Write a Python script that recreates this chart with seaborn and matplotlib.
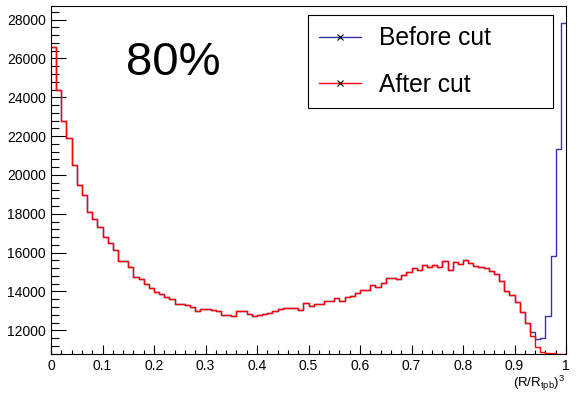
import numpy as np
import pandas as pd
import matplotlib
matplotlib.use('Agg')
import matplotlib.pyplot as plt
from matplotlib.lines import Line2D
from matplotlib.ticker import MultipleLocator, FuncFormatter
import seaborn as sns

# --- 資料 (從圖上讀出的各 bin 數值, 100 bins, 0~1) ---
n_bins = 100
bin_centers = (np.arange(n_bins) + 0.5) / n_bins

after_cut = [26566, 24353, 22773, 21882, 20523, 19478, 18948, 18089, 17713, 17317,
             16787, 16478, 16149, 15551, 15551, 15258, 14759, 14656, 14368, 14193,
             13956, 13868, 13714, 13596, 13354, 13354, 13318, 13184, 12993, 13112,
             13081, 13029, 13009, 12803, 12803, 12751, 13009, 13009, 12839, 12736,
             12787, 12839, 12890, 12978, 13081, 13132, 13163, 13163, 13060, 13390,
             13235, 13369, 13369, 13524, 13524, 13647, 13508, 13699, 13750, 13904,
             14090, 14090, 14347, 14229, 14419, 14676, 14707, 14656, 14862, 15001,
             15207, 15119, 15376, 15273, 15376, 15258, 15582, 15088, 15515, 15428,
             15634, 15479, 15294, 15243, 15191, 15052, 14882, 14553, 14038, 13801,
             13457, 12957, 12360, 11722, 11156, 10899, 10816, 10816, 10770, 10760]

# 切之前: 前 93 個 bin 與切之後相同, 最後幾個 bin 不同
before_tail = [11897, 11552, 11619, 12720, 15840, 21332, 27832]
before_cut = after_cut[:93] + before_tail

legend_labels = ['Before cut', 'After cut']
x_ticks = [0, 0.1, 0.2, 0.3, 0.4, 0.5, 0.6, 0.7, 0.8, 0.9, 1]
y_ticks = [12000, 14000, 16000, 18000, 20000, 22000, 24000, 26000, 28000]

df = pd.DataFrame({'x': bin_centers, 'before': before_cut, 'after': after_cut})

# --- 樣式 ---
sns.set_style("white")
plt.rcParams['font.family'] = ['Liberation Sans', 'DejaVu Sans']
plt.rcParams['text.color'] = 'black'
plt.rcParams['mathtext.fontset'] = 'custom'
plt.rcParams['mathtext.rm'] = 'Liberation Sans'
plt.rcParams['mathtext.it'] = 'Liberation Sans'

blue = '#3333ab'
red = '#ff0000'

fig = plt.figure(figsize=(5.8, 3.94), dpi=100)
ax = fig.add_axes([51 / 580, 1 - 354 / 394, 515 / 580, 348 / 394])

sns.histplot(data=df, x='x', weights='before', bins=n_bins, binrange=(0, 1),
             element='step', fill=False, color=blue, linewidth=1.0, ax=ax)
sns.histplot(data=df, x='x', weights='after', bins=n_bins, binrange=(0, 1),
             element='step', fill=False, color=red, linewidth=1.0, ax=ax)

ax.set_xlim(0, 1)
ax.set_ylim(10780, 28700)
ax.set_xlabel(''); ax.set_ylabel('')

# --- 座標軸 (ROOT 風格: 刻度朝內) ---
ax.set_xticks(x_ticks)
ax.xaxis.set_minor_locator(MultipleLocator(0.02))
ax.set_yticks(y_ticks)
ax.yaxis.set_minor_locator(MultipleLocator(400))
ax.xaxis.set_major_formatter(FuncFormatter(lambda v, p: f'{v:g}'))
ax.yaxis.set_major_formatter(FuncFormatter(lambda v, p: f'{int(v)}'))

ax.tick_params(axis='both', which='both', direction='in', width=0.8,
               colors='black', labelsize=10, pad=3.6,
               left=True, bottom=True, top=False, right=False)
ax.tick_params(axis='y', which='major', length=10.8)
ax.tick_params(axis='y', which='minor', length=5.4)
ax.tick_params(axis='x', which='major', length=6.5)
ax.tick_params(axis='x', which='minor', length=3.2)

for s in ax.spines.values():
    s.set_color('black'); s.set_linewidth(0.8); s.set_visible(True)

# --- 文字 ---
fig.text(126 / 580, 1 - 75 / 394, '80%', fontsize=34, ha='left', va='baseline')
fig.text(565 / 580, 1 - 387 / 394, r'$\mathregular{(R/R_{tpb})^{3}}$',
         fontsize=9.5, ha='right', va='baseline')

handles = [Line2D([], [], color=blue, lw=1.0, marker='x', markersize=5,
                  markeredgecolor='black', markeredgewidth=0.8),
           Line2D([], [], color=red, lw=1.0, marker='x', markersize=5,
                  markeredgecolor='black', markeredgewidth=0.8)]
leg = ax.legend(handles, legend_labels, loc='upper left',
                bbox_to_anchor=(0.499, 0.713, 0.476, 0.261), mode='expand',
                borderaxespad=0, fontsize=17.7, fancybox=False, framealpha=1,
                edgecolor='black', handlelength=1.72, handletextpad=0.7,
                labelspacing=0.92, borderpad=0.45)
leg.get_frame().set_linewidth(0.8)

fig.savefig('out.png', dpi=100)
